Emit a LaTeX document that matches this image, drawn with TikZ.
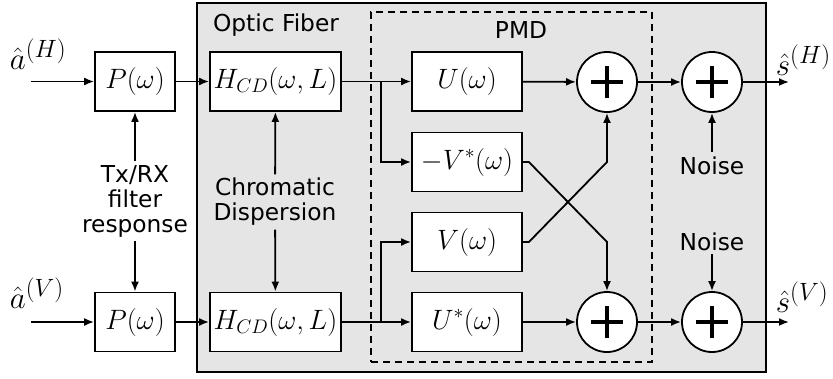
\RequirePackage{fix-cm}
\documentclass[tikz,border=0pt]{standalone}
\usepackage{fontspec}
\newfontfamily\labelfont{DejaVu Sans}
\usetikzlibrary{arrows.meta}
% superscript of the signal names, set a little larger than a normal script
\newcommand{\sigsup}[1]{^{\hbox{\fontsize{25}{27}\selectfont$(#1)$}}}
\begin{document}
\begin{tikzpicture}[x=1pt,y=-1pt,line width=1.8pt,
  >={Latex[length=10pt,width=8pt]},
  mathtxt/.style={font=\fontsize{28}{32}\selectfont},
  sanstxt/.style={font=\labelfont\fontsize{23.3}{25}\selectfont},
  block/.style={draw,fill=white,inner sep=0pt,minimum height=59pt,mathtxt},
  pbox/.style={block,minimum width=80pt},
  hbox/.style={block,minimum width=131pt},
  pmdbox/.style={block,minimum width=110pt},
  sumnode/.style={draw,fill=white,circle,minimum size=60pt,inner sep=0pt,
    path picture={
      \draw[line width=4.5pt]
        ([xshift=-16pt]path picture bounding box.center) -- ([xshift=16pt]path picture bounding box.center)
        ([yshift=-16pt]path picture bounding box.center) -- ([yshift=16pt]path picture bounding box.center);
    }},
  labeltxt/.style={sanstxt,inner sep=3pt},
  signame/.style={font=\fontsize{31}{34}\selectfont,anchor=base west,inner sep=0pt},
]
\useasboundingbox (0,0) rectangle (833,378);

% enclosing frames
\node[draw,fill=black!10,minimum width=569pt,minimum height=369pt,inner sep=0pt] (fiber) at (481.5,187.5) {};
\node[draw,dashed,dash pattern=on 7pt off 5pt,line width=1.5pt,minimum width=281pt,minimum height=350pt,inner sep=0pt] (pmd) at (511.5,187) {};
\node[sanstxt,anchor=base] (fiberlbl) at (276,31) {Optic Fiber};
\node[sanstxt,anchor=base] (pmdlbl) at (521,38) {PMD};

% blocks
\node[pbox] (PH) at (135,81.5) {$P(\omega)$};
\node[pbox] (PV) at (135,322) {$P(\omega)$};
\node[hbox] (HH) at (275.5,81.5) {$H_{CD}(\omega,L)$};
\node[hbox] (HV) at (275.5,322) {$H_{CD}(\omega,L)$};
\node[pmdbox] (U) at (467,81.5) {$U(\omega)$};
\node[pmdbox] (Vn) at (467,162) {$-V^{*}(\omega)$};
\node[pmdbox] (V) at (467,242) {$V(\omega)$};
\node[pmdbox] (Us) at (467,322) {$U^{*}(\omega)$};

% adders
\node[sumnode] (S1) at (607,82) {};
\node[sumnode] (S2) at (607,322) {};
\node[sumnode] (N1) at (712,82) {};
\node[sumnode] (N2) at (712,322) {};

% signal labels
\node[signame] (aH) at (9,69) {$\hat{a}\sigsup{H}$};
\node[signame] (aV) at (9,308) {$\hat{a}\sigsup{V}$};
\node[signame] (sH) at (775,75) {$\hat{s}\sigsup{H}$};
\node[signame] (sV) at (775,312) {$\hat{s}\sigsup{V}$};

% side texts
\node[labeltxt,align=center] (txrx) at (135,201) {Tx/RX\\filter\\response};
\node[labeltxt,align=center] (cd) at (275,202) {Chromatic\\Dispersion};
\node[labeltxt,anchor=base] (noise1) at (712,174) {Noise};
\node[labeltxt,anchor=base] (noise2) at (712,250) {Noise};

% free ends
\coordinate (inH) at (31,81.5);
\coordinate (inV) at (31,322);
\coordinate (outH) at (789,82);
\coordinate (outV) at (789,322);
\coordinate (bH) at (381,81.5);
\coordinate (bV) at (381,322);

% signal path
\draw[->] (inH) -- (PH);
\draw[->] (inV) -- (PV);
\draw[->] (PH) -- (HH);
\draw[->] (PV) -- (HV);
\draw[->] (HH) -- (U);
\draw[->] (HV) -- (Us);
\draw[->] (bH) |- (Vn.west);
\draw[->] (bV) |- (V.west);
\draw[->] (U) -- (S1);
\draw[->] (Us) -- (S2);
\draw[->] (Vn.east) -- ++(6,0) -- (607,242) -- (S2.north);
\draw[->] (V.east) -- ++(6,0) -- (607,162) -- (S1.south);
\draw[->] (S1) -- (N1);
\draw[->] (S2) -- (N2);
\draw[->] (N1) -- (outH);
\draw[->] (N2) -- (outV);

% side inputs
\draw[->] (txrx) -- (PH);
\draw[->] (txrx) -- (PV);
\draw[->] (cd) -- (HH);
\draw[->] (cd) -- (HV);
\draw[->] (noise1) -- (N1);
\draw[->] (noise2) -- (N2);
\end{tikzpicture}
\end{document}
